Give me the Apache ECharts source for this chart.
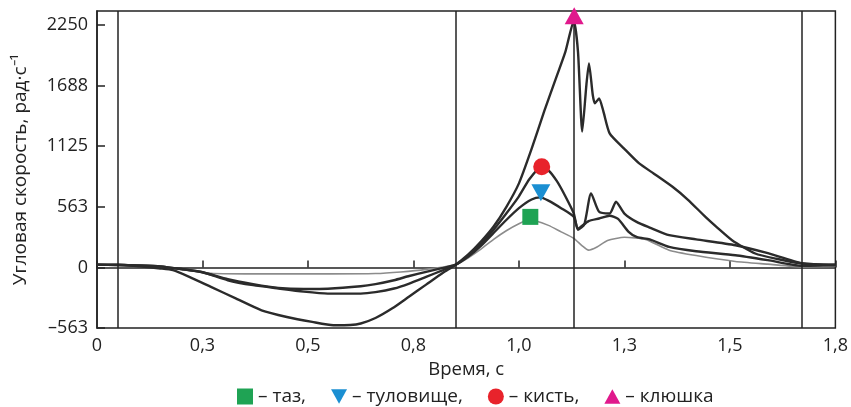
<!DOCTYPE html>
<html>
<head>
<meta charset="utf-8">
<script src="https://cdn.jsdelivr.net/npm/echarts@6/dist/echarts.min.js"></script>
<style>
  html, body { margin: 0; padding: 0; background: #fff; }
  #chart { width: 851px; height: 407px; }
</style>
</head>
<body>
<div id="chart"></div>
<script>
// ось X: 0..1.75 c шагом 0.25, подписи округлены как на рисунке
var xTickLabels = ['0', '0,3', '0,5', '0,8', '1,0', '1,3', '1,5', '1,8'];
var yTickLabels = ['\u2013563', '0', '563', '1125', '1688', '2250'];

// вертикальные линии фаз
var phaseLines = [0.053, 0.85, 1.131, 1.671];

// угловая скорость [время, значение]
var tazPts = [
  [0, 25], [0.05, 22], [0.1, 15], [0.15, 5], [0.2, -20], [0.27, -55], [0.35, -60],
  [0.45, -60], [0.55, -60], [0.66, -57], [0.72, -42], [0.78, -18], [0.85, 25],
  [0.88, 90], [0.91, 170], [0.94, 260], [0.97, 340], [1.0, 405], [1.02, 435],
  [1.04, 430], [1.07, 390], [1.1, 330], [1.13, 270], [1.15, 200], [1.165, 160],
  [1.185, 190], [1.21, 250], [1.25, 280], [1.3, 260], [1.356, 160], [1.42, 110],
  [1.513, 55], [1.59, 30], [1.67, 5], [1.75, 10]
];
var torsoPts = [
  [0, 25], [0.05, 22], [0.1, 18], [0.15, 10], [0.2, -15], [0.25, -45], [0.31, -110],
  [0.37, -155], [0.43, -190], [0.49, -200], [0.547, -198], [0.625, -175], [0.66, -155],
  [0.704, -119], [0.74, -80], [0.78, -42], [0.82, -5], [0.85, 25], [0.88, 100],
  [0.91, 200], [0.94, 320], [0.97, 440], [1.0, 550], [1.03, 630], [1.05, 650],
  [1.07, 620], [1.1, 550], [1.13, 470], [1.14, 350], [1.155, 400], [1.171, 687],
  [1.19, 516], [1.215, 500], [1.23, 609], [1.25, 500], [1.28, 420], [1.31, 370],
  [1.356, 299], [1.42, 260], [1.513, 206], [1.59, 132], [1.67, 40], [1.75, 25]
];
var handPts = [
  [0, 25], [0.05, 22], [0.1, 18], [0.15, 10], [0.2, -15], [0.25, -45], [0.31, -119],
  [0.37, -165], [0.43, -196], [0.49, -225], [0.547, -243], [0.625, -243], [0.66, -230],
  [0.704, -196], [0.74, -150], [0.78, -88], [0.82, -25], [0.85, 25], [0.88, 110],
  [0.91, 220], [0.94, 350], [0.97, 500], [1.0, 660], [1.025, 820], [1.05, 920],
  [1.07, 900], [1.09, 800], [1.11, 660], [1.13, 500], [1.14, 360], [1.165, 430],
  [1.19, 454], [1.215, 480], [1.235, 450], [1.26, 330], [1.28, 280], [1.31, 260],
  [1.356, 190], [1.42, 150], [1.513, 113], [1.59, 67], [1.67, 15], [1.75, 25]
];
var stickPts = [
  [0, 25], [0.05, 25], [0.1, 10], [0.15, -10], [0.18, -26], [0.22, -90], [0.27, -181],
  [0.33, -290], [0.39, -398], [0.45, -460], [0.51, -506], [0.56, -537], [0.6, -535],
  [0.625, -521], [0.66, -470], [0.7, -380], [0.74, -270], [0.78, -160], [0.82, -50],
  [0.85, 25], [0.88, 120], [0.91, 240], [0.94, 380], [0.97, 560], [1.0, 780],
  [1.03, 1100], [1.06, 1450], [1.09, 1780], [1.11, 2000], [1.13, 2290], [1.14, 2000],
  [1.15, 1260], [1.16, 1700], [1.166, 1894], [1.175, 1600], [1.18, 1523], [1.19, 1569],
  [1.2, 1450], [1.215, 1244], [1.25, 1100], [1.285, 965], [1.32, 870], [1.364, 748],
  [1.4, 630], [1.442, 469], [1.47, 370], [1.505, 253], [1.56, 129], [1.61, 80],
  [1.671, 36], [1.75, 20]
];

// маркеры максимумов
var peakNames = ['таз', 'туловище', 'кисть', 'клюшка'];
var peakPts = [[1.027, 469], [1.052, 694], [1.054, 934], [1.131, 2335]];
var peakColors = ['#1fa354', '#1b8fd2', '#e8232b', '#e0198c'];
var peakSymbols = ['rect', 'path://M0,0L10,0L5,9Z', 'circle', 'path://M5,0L10,9L0,9Z'];
var legendTexts = ['\u2013 таз,', '\u2013 туловище,', '\u2013 кисть,', '\u2013 клюшка'];

var chart = echarts.init(document.getElementById('chart'));

function lineSeries(name, pts, color, width) {
  return {
    name: name,
    type: 'line',
    data: pts,
    showSymbol: false,
    smooth: 0.2,
    lineStyle: { color: color, width: width },
    z: 3
  };
}

var series = [
  lineSeries('линия таз', tazPts, '#8c8c8c', 1.6),
  lineSeries('линия туловище', torsoPts, '#2b2b2b', 2.4),
  lineSeries('линия кисть', handPts, '#2b2b2b', 2.4),
  lineSeries('линия клюшка', stickPts, '#2b2b2b', 2.4)
];
series[0].markLine = {
  silent: true,
  symbol: ['none', 'none'],
  label: { show: false },
  lineStyle: { color: '#222', width: 1.5, type: 'solid' },
  data: phaseLines.map(function (v) { return { xAxis: v }; })
};

peakNames.forEach(function (n, i) {
  series.push({
    name: n,
    type: 'scatter',
    data: [peakPts[i]],
    symbol: peakSymbols[i],
    symbolSize: i === 0 ? 16 : (i === 2 ? 17 : [19, 17]),
    itemStyle: { color: peakColors[i], opacity: 1 },
    z: 5
  });
});

var option = {
  animation: false,
  backgroundColor: '#fff',
  textStyle: { fontFamily: 'Open Sans' },
  grid: {
    left: 97, right: 10, top: 11, bottom: 79,
    show: true, borderColor: '#222', borderWidth: 1.5
  },
  legend: {
    data: peakNames,
    left: 232,
    top: 382,
    itemWidth: 16,
    itemHeight: 16,
    itemGap: 25,
    formatter: function (n) { return legendTexts[peakNames.indexOf(n)]; },
    textStyle: { fontSize: 19, color: '#222', fontFamily: 'Open Sans' }
  },
  xAxis: {
    type: 'value',
    min: 0, max: 1.75, interval: 0.25,
    name: 'Время, с',
    nameLocation: 'middle',
    nameGap: 31,
    nameTextStyle: { fontSize: 18.5, color: '#222' },
    axisLine: { lineStyle: { color: '#222', width: 1.5 } },
    axisTick: { inside: true, length: 7, lineStyle: { color: '#222', width: 1.5 } },
    axisLabel: {
      fontSize: 18, color: '#222', margin: 9,
      formatter: function (v) { return xTickLabels[Math.round(v / 0.25)] || ''; }
    },
    splitLine: { show: false }
  },
  yAxis: {
    type: 'value',
    min: -562.5, max: 2380, interval: 562.5,
    name: 'Угловая скорость, рад·с⁻¹',
    nameLocation: 'middle',
    nameGap: 67,
    nameTextStyle: { fontSize: 19, color: '#222' },
    axisLine: { show: true, lineStyle: { color: '#222', width: 1.5 } },
    axisTick: { inside: true, length: 8, lineStyle: { color: '#222', width: 1.5 } },
    axisLabel: {
      fontSize: 18, color: '#222', margin: 9, showMaxLabel: false,
      formatter: function (v) {
        var k = Math.round((v + 562.5) / 562.5);
        return Math.abs(k * 562.5 - 562.5 - v) < 1 ? (yTickLabels[k] || '') : '';
      }
    },
    splitLine: { show: false }
  },
  series: series
};

chart.setOption(option);
</script>
</body>
</html>
